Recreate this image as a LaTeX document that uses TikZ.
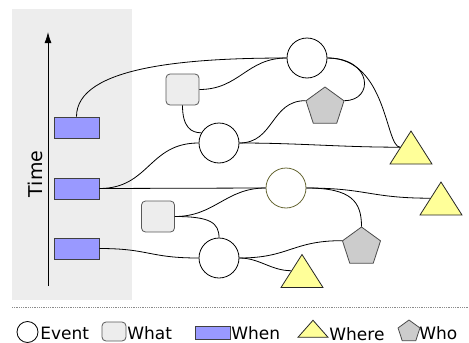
\documentclass[tikz,border=0pt]{standalone}
\usepackage{fontspec}
\setmainfont{DejaVu Sans}
\usetikzlibrary{arrows,arrows.meta,shapes.geometric,calc}
\definecolor{whenblue}{RGB}{153,153,255}
\definecolor{whereyellow}{RGB}{255,255,153}
\definecolor{olivering}{RGB}{102,102,51}

\begin{document}
\begin{tikzpicture}[
  x=1pt, y=-1pt, line width=0.8pt,
  > = {Latex[length=11pt,width=7pt]},
  event/.style = {draw,circle,minimum size=40pt,inner sep=0pt},
  what/.style = {draw=black!65,fill=black!7,rounded corners=4pt,minimum width=33pt,minimum height=31pt,inner sep=0pt},
  when/.style = {draw=black!75,fill=whenblue,minimum width=45pt,minimum height=21pt,inner sep=0pt},
  where/.style = {draw=black!85,fill=whereyellow,isosceles triangle,isosceles triangle stretches,shape border rotate=90,minimum width=42pt,minimum height=33pt,inner sep=0pt},
  who/.style = {draw=black!70,fill=black!20,regular polygon,regular polygon sides=5,minimum size=40pt,inner sep=0pt},
  lbl/.style = {anchor=base west,inner sep=0pt,font=\fontsize{17}{20}\selectfont}
  ]
	\useasboundingbox (0,0) rectangle (469,343);

	% time band
	\fill[black!7] (12,9) rectangle (132,300);
	\coordinate (t0) at (48,286);
	\coordinate (t1) at (48,32);
	\draw[->] (t0) -- (t1);
	\node[rotate=90,inner sep=0pt,font=\fontsize{19}{22}\selectfont] (time) at (35,174) {Time};

	\node[when] (when1) at (76.5,127.5) {};
	\node[when] (when2) at (76.5,188.5) {};
	\node[when] (when3) at (76.5,248.5) {};

	\node[what] (what1) at (182.5,89.5) {};
	\node[what] (what2) at (158,216.5) {};

	\node[event] (ev0) at (307,58) {};
	\node[event] (ev1) at (219,143) {};
	\node[event,draw=olivering] (ev2) at (286,188) {};
	\node[event] (ev3) at (219,258) {};

	\node[who] (who1) at (325,107) {};
	\node[who] (who2) at (361.5,247) {};

	\node[where] (where1) at (411,152.5) {};
	\node[where] (where2) at (441,203.5) {};
	\node[where] (where3) at (302,276) {};

	\draw (when1.north) .. controls +(0,-50) and +(-100,0) .. (ev0.west);
	\draw (what1.east) .. controls +(40,0) and +(-40,0) .. (ev0.west);
	\draw (what1.south) .. controls +(0,22) and +(-10,0) .. (ev1.150);
	\draw (when2.east) .. controls +(50,0) and +(-50,0) .. (ev1.west);
	\draw (when2.east) -- (ev2.west);
	\draw (ev1.east) .. controls +(35,0) and +(-35,0) .. (who1.corner 2);
	\draw (ev1.east) .. controls +(60,0) and +(-60,0) .. (where1.left side);
	\draw (ev0.east) .. controls +(45,0) and +(30,0) .. (who1.corner 5);
	\draw (ev0.east) .. controls +(60,0) and +(-15,0) .. (where1.left side);
	\draw (what2.east) .. controls +(40,0) and +(-40,0) .. (ev2.west);
	\draw (what2.east) .. controls +(35,0) and +(0,-15) .. (ev3.north);
	\draw (when3.east) .. controls +(50,0) and +(-50,0) .. (ev3.west);
	\draw (ev3.east) .. controls +(50,0) and +(-50,0) .. (who2.corner 2);
	\draw (ev3.east) .. controls +(20,0) and +(-20,0) .. (where3.left side);
	\draw (ev2.east) .. controls +(60,0) and +(-60,0) .. (where2.left side);
	\draw (ev2.east) .. controls +(45,0) and +(0,-25) .. (who2.corner 1);

	% legend
	\draw[black!45,densely dotted] (12,307) -- (469,307);
	\node[event,minimum size=21pt] (lgEvent) at (27.5,332) {};
	\node[lbl] (txEvent) at (40,339) {Event};
	\node[what,minimum width=24pt,minimum height=19pt] (lgWhat) at (114,331.5) {};
	\node[lbl] (txWhat) at (127,339) {What};
	\node[when,minimum width=35pt,minimum height=13pt] (lgWhen) at (212.5,332.5) {};
	\node[lbl] (txWhen) at (231,339) {When};
	\node[where,minimum width=30pt,minimum height=17pt] (lgWhere) at (313,330.5) {};
	\node[lbl] (txWhere) at (329,340) {Where};
	\node[who,minimum size=23pt] (lgWho) at (409,331.5) {};
	\node[lbl] (txWho) at (419,339) {Who};
\end{tikzpicture}
\end{document}
